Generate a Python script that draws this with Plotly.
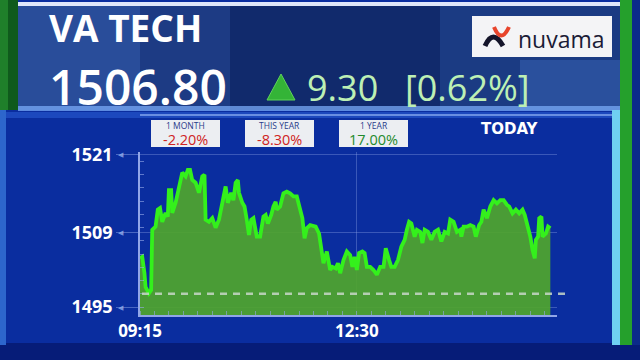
import plotly.graph_objects as go

# ---------------- data ----------------
TIMES = ["09:15","09:17","09:19","09:20","09:23","09:25","09:26","09:29","09:31","09:33",
         "09:35","09:38","09:40","09:41","09:43","09:44","09:47","09:50","09:53","09:56",
         "09:58","10:00","10:02","10:05","10:08","10:11","10:13","10:14","10:17","10:20",
         "10:23","10:26","10:30","10:32","10:34","10:37","10:39","10:41","10:43","10:44",
         "10:47","10:49","10:51","10:53","10:55","10:57","11:00","11:03","11:06","11:08",
         "11:10","11:13","11:15","11:17","11:18","11:21","11:24","11:27","11:30","11:33",
         "11:36","11:38","11:41","11:43","11:45","11:48","11:53","11:56","11:58","12:00",
         "12:03","12:06","12:08","12:11","12:13","12:15","12:18","12:21","12:24","12:26",
         "12:28","12:30","12:32","12:35","12:37","12:39","12:42","12:45","12:48","12:51",
         "12:54","12:56","12:59","13:01","13:04","13:07","13:10","13:13","13:15","13:17",
         "13:19","13:22","13:24","13:27","13:29","13:31","13:34","13:37","13:40","13:43",
         "13:46","13:49","13:52","13:54","13:57","14:00","14:03","14:04","14:06","14:09",
         "14:12","14:15","14:17","14:20","14:22","14:24","14:27","14:30","14:33","14:36",
         "14:39","14:42","14:45","14:47","14:50","14:53","14:56","14:59","15:01","15:03",
         "15:06","15:08","15:10","15:11","15:13","15:14","15:16","15:17","15:20","15:22",
         "15:24"]
PRICES = [1504.2,1504.5,1501.4,1498.8,1497.6,1498.2,1509.6,1510.2,1513.4,1513.7,
          1511.1,1512.8,1512.1,1517.1,1517.1,1512.8,1514.7,1517.8,1520.4,1519.7,
          1520.9,1520.9,1519.0,1518.5,1516.6,1519.7,1520.0,1511.5,1511.1,1511.8,
          1510.0,1511.5,1515.9,1517.8,1514.7,1516.6,1515.2,1518.5,1519.0,1516.6,
          1514.7,1514.0,1511.5,1508.6,1511.5,1511.8,1508.3,1508.3,1512.1,1512.4,
          1510.8,1512.4,1514.0,1514.9,1513.4,1514.0,1516.5,1516.8,1516.5,1515.9,
          1515.9,1514.0,1511.8,1508.0,1509.9,1510.5,1510.2,1508.9,1506.4,1503.3,
          1505.5,1502.0,1502.6,1502.3,1503.3,1501.4,1503.9,1505.5,1504.8,1502.6,
          1504.5,1502.0,1505.2,1505.5,1505.2,1502.6,1502.6,1502.0,1501.1,1502.6,
          1502.6,1506.1,1503.9,1502.6,1502.6,1503.9,1506.4,1507.7,1509.6,1511.1,
          1510.8,1508.3,1509.6,1509.2,1507.1,1509.6,1509.2,1507.7,1509.2,1509.6,
          1507.4,1509.2,1508.9,1511.5,1511.1,1509.2,1509.6,1508.3,1510.2,1510.2,
          1510.5,1510.2,1508.3,1510.5,1511.1,1513.4,1511.8,1514.0,1515.2,1514.6,
          1515.2,1515.2,1514.3,1514.0,1512.7,1513.4,1512.7,1513.4,1512.4,1510.8,
          1508.3,1505.8,1504.2,1507.7,1508.3,1511.8,1512.1,1508.3,1508.9,1510.2,
          1509.9]

STOCK_NAME = "VA TECH"
LAST_PRICE = 1506.80
CHANGE = 9.30
CHANGE_PCT = 0.62
PREV_CLOSE = LAST_PRICE - CHANGE

X_TICK_TEXT = ["09:15", "12:30"]
Y_TICK_TEXT = ["1495", "1509", "1521"]
Y_TICK_VALS = [1495, 1509, 1523.8]
Y_RANGE = [1493.5, 1524.3]

PERF_LABELS = ["1 MONTH", "THIS YEAR", "1 YEAR"]
PERF_VALUES = [-2.20, -8.30, 17.00]

DAY = "2024-01-01 "

# ---------------- helpers (pixel -> paper) ----------------
W, H = 640, 360
def px(x):
    return x / W
def py(y):
    return 1 - y / H

shapes = []
annotations = []

def rect(x0, y0, x1, y1, color, layer="below"):
    shapes.append(dict(type="rect", xref="paper", yref="paper",
                       x0=px(x0), x1=px(x1), y0=py(y1), y1=py(y0),
                       fillcolor=color, line=dict(width=0), layer=layer))

def text(x, y, s, size, color, family="Open Sans", weight=400, xanchor="left"):
    annotations.append(dict(xref="paper", yref="paper", x=px(x), y=py(y), text=s,
                            showarrow=False, xanchor=xanchor, yanchor="middle",
                            borderpad=0,
                            font=dict(size=size, color=color, family=family, weight=weight)))

# ---------------- backgrounds ----------------
rect(0, 343, 640, 360, "#061c78")
rect(0, 112, 640, 118, "rgba(40,90,210,0.6)")
rect(140, 114, 620, 116, "rgba(170,200,255,0.55)")
# header panel
rect(18, 4, 626, 110, "#112a6c")
rect(18, 4, 140, 110, "rgba(70,120,210,0.45)")
rect(140, 4, 230, 110, "rgba(60,100,190,0.3)")
rect(440, 4, 626, 110, "rgba(60,110,200,0.25)")
rect(520, 60, 626, 110, "rgba(80,130,220,0.3)")
rect(18, 2, 626, 6, "rgba(235,240,255,0.95)")
rect(18, 106, 626, 111, "rgba(120,170,245,0.75)")
# side strips
rect(0, 0, 8, 110, "#1f7f2a")
rect(8, 0, 18, 110, "#0f5a1c")
rect(0, 110, 6, 345, "#2d66cc")
rect(612, 110, 620, 345, "#6fd0f2")
rect(620, 0, 632, 345, "#25a02c")
rect(632, 0, 640, 345, "#0b2a8a")

# ---------------- header texts ----------------
text(48, 28, STOCK_NAME, 37, "white", weight=700)
text(48, 86, f"{LAST_PRICE:.2f}", 48, "white", weight=600)
shapes.append(dict(type="path", xref="paper", yref="paper",
                   path=f"M {px(267)},{py(100)} L {px(281)},{py(74)} L {px(295)},{py(100)} Z",
                   fillcolor="#34b437", line=dict(color="#5fd35a", width=1)))
text(306, 87, f"{CHANGE:.2f}", 36, "#bdf0b4", weight=500)
text(404, 87, f"[{CHANGE_PCT:.2f}%]", 36, "#bdf0b4", weight=500)

# nuvama logo
rect(472, 16, 612, 57, "#f4f4f6", layer="above")
shapes.append(dict(type="path", xref="paper", yref="paper", layer="above",
                   path=f"M {px(485)},{py(46)} Q {px(493)},{py(28)} {px(503)},{py(46)}",
                   line=dict(color="#15152a", width=5)))
shapes.append(dict(type="path", xref="paper", yref="paper", layer="above",
                   path=f"M {px(494)},{py(27)} Q {px(501)},{py(44)} {px(509)},{py(27)}",
                   line=dict(color="#e8452c", width=4)))
text(517, 39, "nuvama", 23, "#1b1b36", weight=500)

# ---------------- performance boxes ----------------
box_x = [151, 245, 339]
for bx, lab, val in zip(box_x, PERF_LABELS, PERF_VALUES):
    rect(bx, 120, bx + 69, 147, "#eceef2", layer="above")
    text(bx + 34.5, 125.5, lab, 8.5, "#2a3b8a", weight=500, xanchor="center")
    col = "#cf2323" if val < 0 else "#1f8a2c"
    text(bx + 34.5, 140, f"{val:.2f}%", 14.5, col, weight=500, xanchor="center")
text(510, 129, "TODAY", 15, "white", family="DejaVu Sans", weight=700, xanchor="center")

# tick arrows
for v in Y_TICK_VALS:
    annotations.append(dict(xref="paper", yref="y", x=px(121), y=v, text="◀",
                            showarrow=False, xanchor="center", yanchor="middle",
                            font=dict(size=7, color="rgba(150,175,235,0.8)")))

# previous close dashed line
shapes.append(dict(type="line", xref="paper", yref="y", x0=px(142), x1=px(566),
                   y0=PREV_CLOSE, y1=PREV_CLOSE, layer="above",
                   line=dict(color="rgba(200,215,200,0.85)", width=2.5, dash="7px,6px")))

# ---------------- trace ----------------
fig = go.Figure()
fig.add_trace(go.Scatter(
    x=[DAY + t for t in TIMES], y=PRICES, mode="lines",
    line=dict(color="#34f01c", width=3.8),
    fill="tozeroy", fillcolor="rgba(80,165,46,0.93)",
    hoverinfo="skip"))

axis_col = "rgba(160,180,240,0.9)"
fig.update_layout(
    width=W, height=H, margin=dict(l=0, r=0, t=0, b=0, autoexpand=False),
    paper_bgcolor="#0a2d9f", plot_bgcolor="rgba(0,0,0,0)",
    showlegend=False, shapes=shapes, annotations=annotations,
    xaxis=dict(domain=[140 / W, 557 / W], type="date", automargin=False,
               range=[DAY + "09:15", DAY + "15:30"],
               tickvals=[DAY + t for t in X_TICK_TEXT], ticktext=X_TICK_TEXT,
               tickfont=dict(size=17, color="white", family="Open Sans", weight=700),
               showline=True, linecolor=axis_col, linewidth=1.5,
               showgrid=True, gridcolor="rgba(150,170,235,0.35)", gridwidth=1,
               ticks="", zeroline=False,
               minor=dict(ticks="inside", ticklen=4, tickcolor="rgba(150,170,235,0.6)",
                          tickmode="linear", tick0=DAY + "09:15", dtick=13 * 60 * 1000,
                          showgrid=False)),
    yaxis=dict(domain=[1 - 315 / H, 1 - 152 / H], range=Y_RANGE, automargin=False,
               tickvals=Y_TICK_VALS, ticktext=Y_TICK_TEXT,
               tickfont=dict(size=18, color="white", family="Open Sans", weight=700),
               showline=True, linecolor=axis_col, linewidth=1.5,
               showgrid=True, gridcolor="rgba(150,170,235,0.35)", gridwidth=1,
               ticks="outside", ticklen=22, tickcolor="rgba(150,175,235,0.45)",
               zeroline=False,
               minor=dict(ticks="inside", ticklen=4, tickcolor="rgba(150,170,235,0.6)",
                          tickmode="linear", tick0=1495, dtick=2.5, showgrid=False)),
)

fig.write_html("out.html")
